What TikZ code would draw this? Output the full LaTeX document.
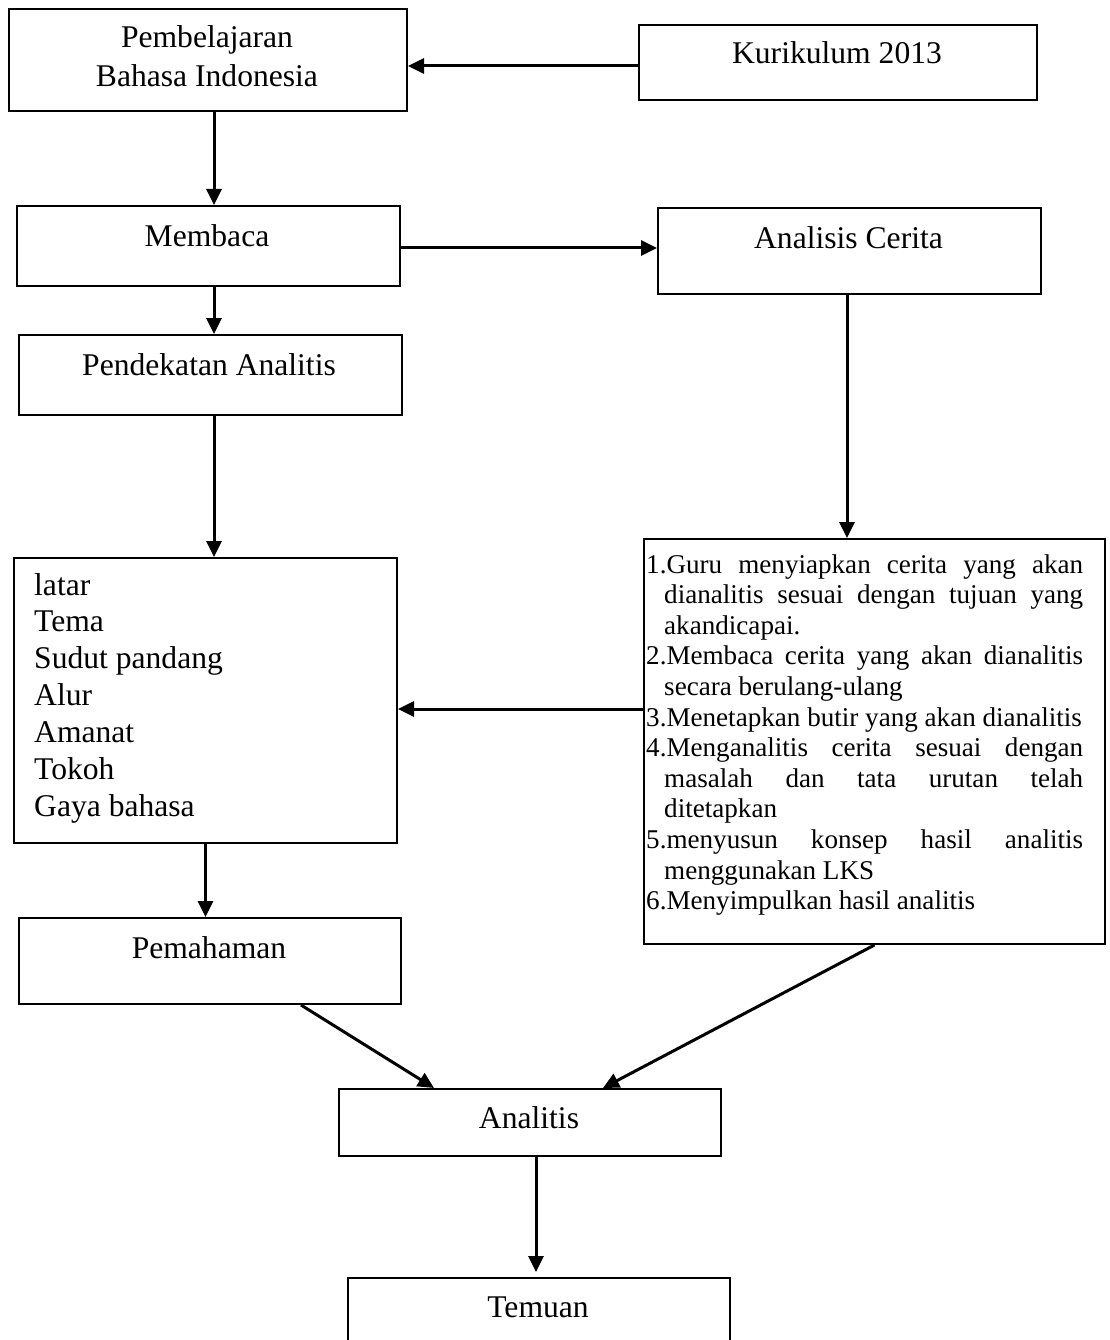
\documentclass[tikz,border=0pt]{standalone}
\usepackage{fontspec}
\setmainfont{Liberation Serif}
\usetikzlibrary{arrows.meta}
\newcommand\myhang{\hangindent=18pt\hangafter=1 }
\tikzset{
  box/.style={draw=black, line width=2pt, inner sep=0pt, anchor=north west, fill=white},
  arr/.style={draw=black, line width=3pt, -{Triangle[length=16pt,width=15pt]}},
  bigtxt/.style={font=\fontsize{31.6}{36.9}\selectfont, inner sep=0pt, anchor=base},
}
\begin{document}
\begin{tikzpicture}[x=1pt,y=-1pt]
\useasboundingbox (0,0) rectangle (1109,1340);
\fill[white] (0,0) rectangle (1109,1340);
% boxes
\node[box, minimum width=398pt, minimum height=102pt] (b1) at (8,8) {};
\node[box, minimum width=398pt, minimum height=75pt] (kur) at (638,24) {};
\node[box, minimum width=383pt, minimum height=80pt] (mem) at (16,205) {};
\node[box, minimum width=383pt, minimum height=86pt] (ac) at (657,207) {};
\node[box, minimum width=383pt, minimum height=80pt] (pen) at (18,334) {};
\node[box, minimum width=383pt, minimum height=285pt] (lat) at (13,557) {};
\node[box, minimum width=461pt, minimum height=405pt] (lst) at (643,538) {};
\node[box, minimum width=382pt, minimum height=86pt] (pem) at (18,917) {};
\node[box, minimum width=382pt, minimum height=67pt] (ana) at (338,1088) {};
\node[box, minimum width=382pt, minimum height=100pt] (tem) at (347,1277) {};
% texts
\node[bigtxt] (t1) at (207,48) {\parbox[t]{397pt}{\centering\fontsize{31.6}{39}\selectfont Pembelajaran\\Bahasa Indonesia}};
\node[bigtxt] (tkur) at (837,64) {Kurikulum 2013};
\node[bigtxt] (tmem) at (207,247) {Membaca};
\node[bigtxt] (tac) at (848.5,248) {Analisis Cerita};
\node[bigtxt] (tpen) at (209,375) {Pendekatan Analitis};
\node[bigtxt, anchor=base west] (tlat) at (34,595) {\parbox[t]{340pt}{\fontsize{31.6}{36.9}\selectfont latar\\Tema\\Sudut pandang\\Alur\\Amanat\\Tokoh\\Gaya bahasa}};
\node[bigtxt] (tpem) at (209,958) {Pemahaman};
\node[bigtxt] (tana) at (529,1128) {Analitis};
\node[bigtxt] (ttem) at (538,1317) {Temuan};
\node[inner sep=0pt, anchor=base west] (tlst) at (646,573) {\parbox[t]{437pt}{\fontsize{27.1}{30.6}\selectfont
\tolerance=10000 \hyphenpenalty=10000 \exhyphenpenalty=10000
\myhang 1.Guru menyiapkan cerita yang akan\linebreak dianalitis sesuai dengan tujuan yang\linebreak akandicapai.\par
\myhang 2.Membaca cerita yang akan dianalitis\linebreak secara berulang-ulang\par
\myhang 3.Menetapkan butir yang akan dianalitis\par
\myhang 4.Menganalitis cerita sesuai dengan\linebreak masalah dan tata urutan telah\linebreak ditetapkan\par
\myhang 5.menyusun konsep hasil analitis\linebreak menggunakan LKS\par
\myhang 6.Menyimpulkan hasil analitis}};
% connectors
\draw[arr] ([yshift=-3.5pt]kur.west) -- ([yshift=-3.5pt]kur.west -| b1.east);
\draw[arr] ([xshift=6pt]b1.south) -- ([xshift=6pt]b1.south |- mem.north);
\draw[arr] ([yshift=-2pt]mem.east) -- ([yshift=-2pt]mem.east -| ac.west);
\draw[arr] ([xshift=5.5pt]mem.south) -- ([xshift=5.5pt]mem.south |- pen.north);
\draw[arr] ([xshift=3.5pt]pen.south) -- ([xshift=3.5pt]pen.south |- lat.north);
\draw[arr] ([xshift=-2.5pt]ac.south) -- ([xshift=-2.5pt]ac.south |- lst.north);
\draw[arr] ([yshift=32.5pt]lst.west) -- ([yshift=32.5pt]lst.west -| lat.east);
\draw[arr] (lat.south) -- (lat.south |- pem.north);
\draw[arr] ([xshift=91pt]pem.south) -- ([xshift=-96pt]ana.north);
\draw[arr] (lst.south) -- ([xshift=73pt]ana.north);
\draw[arr] ([xshift=6pt]ana.south) -- ([xshift=6pt,yshift=5pt]ana.south |- tem.north);
\end{tikzpicture}
\end{document}
